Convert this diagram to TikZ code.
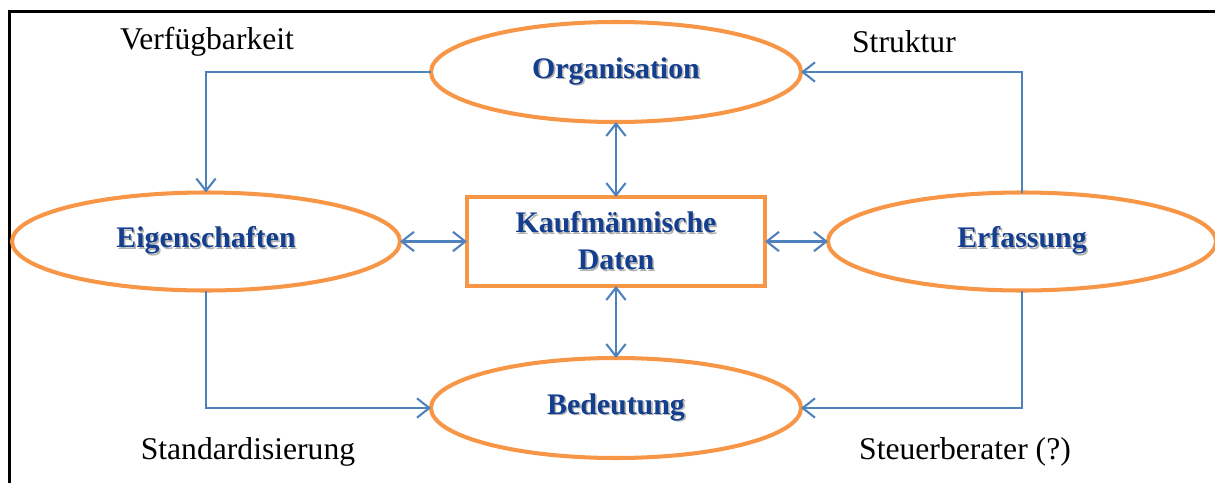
\documentclass[tikz,border=0pt]{standalone}
\usepackage{fontspec}
\setmainfont{Liberation Serif}
\usepackage{tikz}
\usetikzlibrary{positioning,shapes.geometric,arrows.meta}

\definecolor{kante}{RGB}{247,150,70}
\definecolor{pfeil}{RGB}{79,129,189}
\definecolor{schrift}{RGB}{20,62,142}
\newcommand\schatten[1]{\makebox[0pt][l]{\hspace{0.9pt}\raisebox{-0.9pt}{\textcolor{black!30}{#1}}}#1}

\begin{document}
\begin{tikzpicture}[ellip/.style={ellipse, draw=kante, line width=2.3pt, inner sep=0pt, outer sep=0pt, minimum width=7.4cm, minimum height=2cm, text=schrift, font=\fontsize{17}{20}\selectfont\bfseries},
  kasten/.style={rectangle, draw=kante, line width=2.5pt, inner sep=0pt, outer sep=0pt, minimum width=5.96cm, minimum height=1.78cm, align=center, text=schrift, font=\fontsize{17}{21}\selectfont\bfseries},
  beschr/.style={font=\fontsize{18}{21}\selectfont, inner sep=0pt},
  link/.style={draw=pfeil, line width=1.2pt, -{Straight Barb[length=7pt,width=11pt,line width=1.2pt]}},
  beide/.style={draw=pfeil, line width=1.2pt, {Straight Barb[length=7pt,width=11pt,line width=1.2pt]}-{Straight Barb[length=7pt,width=11pt,line width=1.2pt]}}]
  \useasboundingbox (-12.32,-4.83) rectangle (11.98,4.83);
  \draw[line width=1.7pt] (-12.12,-4.83) -- (-12.12,4.60) -- (11.98,4.60);
  \node[kasten] (daten) at (0,0){\schatten{Kaufmännische}\\\schatten{Daten}};
  \node[ellip, above = 1.5cm of daten] (org){\schatten{Organisation}};
  \node[ellip, left = 1.34cm of daten, minimum width=7.76cm, minimum height=1.96cm] (eig){\schatten{Eigenschaften}};
  \node[ellip, right = 1.26cm of daten, minimum width=7.76cm, minimum height=1.96cm] (erf){\schatten{Erfassung}};
  \node[ellip, below = 1.44cm of daten] (bed){\schatten{Bedeutung}};
  \node[beschr] (verf) at (-8.18,3.99){Verfügbarkeit};
  \node[beschr] (struk) at (5.76,3.99){Struktur};
  \node[beschr] (stand) at (-7.36,-4.21){Standardisierung};
  \node[beschr] (steuer) at (6.98,-4.21){Steuerberater (?)};
  \draw[link] (org.west) -| (eig.north);
  \draw[link] (erf.north) |- (org.east);
  \draw[link] (eig.south) |- (bed.west);
  \draw[link] (erf.south) |- (bed.east);
  \draw[beide] (daten.north) -- (org.south);
  \draw[beide] (daten.south) -- (bed.north);
  \draw[beide] (daten.west) -- (eig.east);
  \draw[beide] (daten.east) -- (erf.west);
\end{tikzpicture}
\end{document}
